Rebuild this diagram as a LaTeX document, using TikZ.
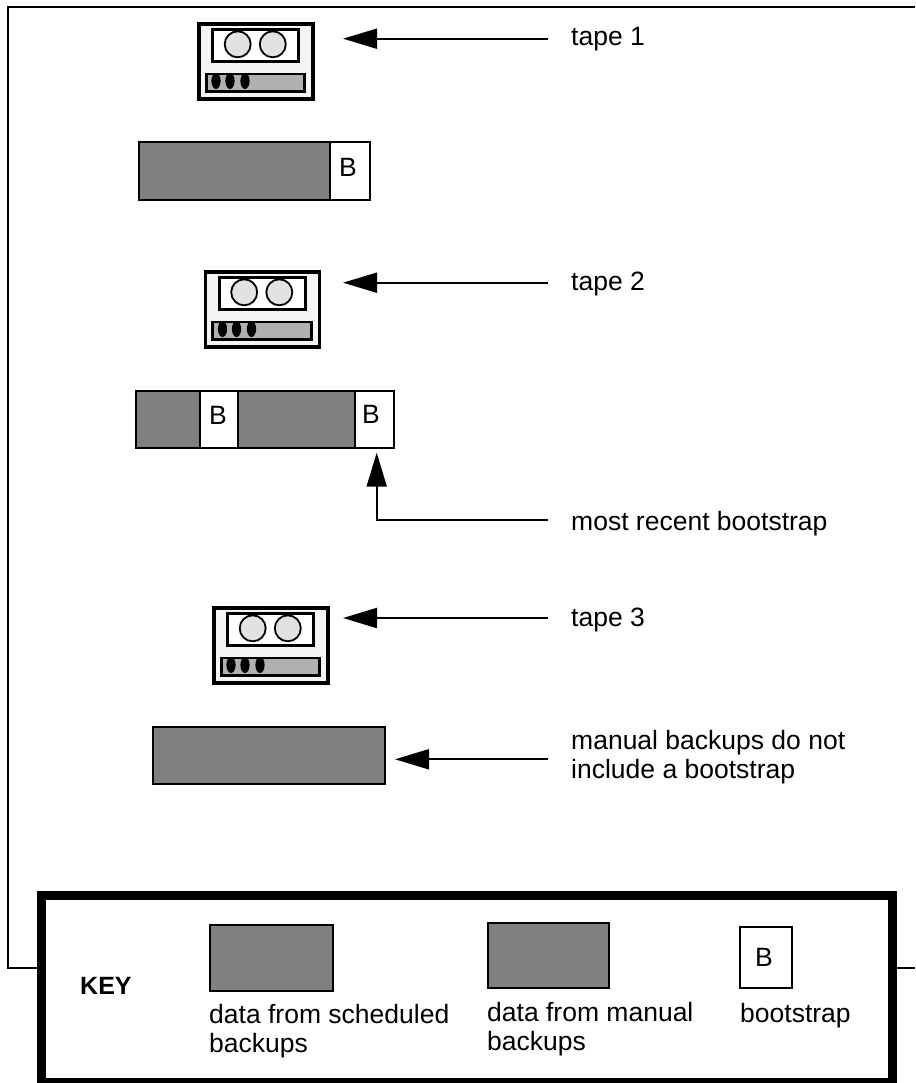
\documentclass[tikz,border=0pt]{standalone}
\usepackage{fontspec}
\setmainfont{Liberation Sans}
\usetikzlibrary{arrows.meta}
\definecolor{datagray}{HTML}{808080}
\definecolor{barfill}{HTML}{B0B0B0}
\definecolor{iconfill}{HTML}{F5F5F5}
\definecolor{reelfill}{HTML}{E2E2E2}
\tikzset{
  x=1pt,y=-1pt,
  frameline/.style={line width=2pt,black},
  seg/.style={draw=black,line width=2pt,fill=datagray,inner sep=0pt,outer sep=0pt,anchor=north west},
  bootbox/.style={draw=black,line width=2pt,fill=white,inner sep=0pt,outer sep=0pt,anchor=north west},
  lbl/.style={font=\fontsize{26.5}{29}\selectfont,inner sep=0pt,anchor=base west,align=left},
  btxt/.style={font=\fontsize{26.5}{29}\selectfont,inner sep=0pt},
  pointer/.style={line width=2pt,-{Triangle[length=34pt,width=20pt]}},
  pics/tapeicon/.style={code={
    \draw[fill=iconfill,line width=3.5pt] (198.8,23.8) rectangle (313.2,99.2);
    \draw[fill=white,line width=3pt] (212.8,29.8) rectangle (298.5,61.2);
    \draw[fill=reelfill,line width=1.8pt] (237.7,44.3) circle (13);
    \draw[fill=reelfill,line width=1.8pt] (272.8,44.3) circle (13);
    \draw[fill=barfill,draw=none] (206.3,74) rectangle (304.7,91.4);
    \fill (216,81) ellipse (4.6 and 8);
    \fill (230,81) ellipse (4.6 and 8);
    \fill (245,81) ellipse (4.6 and 8);
    \draw[line width=2.8pt] (206.3,74) rectangle (304.7,91.4);
  }}
}
\begin{document}
\begin{tikzpicture}
\useasboundingbox (0,0) rectangle (915,1083);
% outer frame
\draw[frameline] (915,7.5) -- (8,7.5) -- (8,967.5) -- (42,967.5);
\draw[frameline] (892,967.5) -- (915,967.5);
% tape icons
\pic at (0,0) {tapeicon};
\pic at (6.5,248) {tapeicon};
\pic at (15,584) {tapeicon};
% media bars
\node[seg,minimum width=191pt,minimum height=58pt] (d1) at (139.3,141.7) {};
\node[bootbox,minimum width=39.4pt,minimum height=58pt] (b1) at (330.3,141.7) {};
\node[btxt] (bt1) at (348,167) {B};
\node[seg,minimum width=64pt,minimum height=57pt] (d2) at (136,391) {};
\node[bootbox,minimum width=38pt,minimum height=57pt] (b2) at (200,391) {};
\node[btxt] (bt2) at (218,415.5) {B};
\node[seg,minimum width=117pt,minimum height=57pt] (d3) at (238,391) {};
\node[bootbox,minimum width=39pt,minimum height=57pt] (b3) at (355,391) {};
\node[btxt] (bt3) at (371,414) {B};
\node[seg,minimum width=231.7pt,minimum height=56.7pt] (d4) at (153,727) {};
% labels
\node[lbl] (t1) at (571,46) {tape 1};
\node[lbl] (t2) at (571,290) {tape 2};
\node[lbl] (t3) at (571,626) {tape 3};
\node[lbl] (t4) at (571,530) {most recent bootstrap};
\node[lbl] (t5a) at (571,749) {manual backups do not};
\node[lbl] (t5b) at (571,778) {include a bootstrap};
% pointers
\coordinate (s1) at (548,38.7); \coordinate (e1) at (343,38.7);
\coordinate (s2) at (548,282.7); \coordinate (e2) at (343,282.7);
\coordinate (s3) at (548,618); \coordinate (e3) at (343,618);
\coordinate (s4) at (548,520); \coordinate (m4) at (376.7,520); \coordinate (e4) at (376.7,452.7);
\coordinate (s5) at (548,759.3); \coordinate (e5) at (395,759.3);
\draw[pointer] (s1) -- (e1);
\draw[pointer] (s2) -- (e2);
\draw[pointer] (s3) -- (e3);
\draw[pointer] (s4) -- (m4) -- (e4);
\draw[pointer] (s5) -- (e5);
% key
\draw[line width=9pt,fill=white] (41.5,895.5) rectangle (892.5,1082.5);
\node[lbl,font=\fontsize{25}{29}\selectfont\bfseries] (k) at (80,994) {KEY};
\node[seg,minimum width=122.7pt,minimum height=65.7pt] (k1) at (210,925) {};
\node[seg,minimum width=120.7pt,minimum height=65.3pt] (k2) at (488,923) {};
\node[bootbox,minimum width=52.2pt,minimum height=61.3pt] (k3) at (740.2,927) {};
\node[btxt] (kt3) at (764,957.5) {B};
\node[lbl] (kl1a) at (209,1023) {data from scheduled};
\node[lbl] (kl1b) at (209,1052) {backups};
\node[lbl] (kl2a) at (487,1021) {data from manual};
\node[lbl] (kl2b) at (487,1050) {backups};
\node[lbl] (kl3) at (740,1022) {bootstrap};
\end{tikzpicture}
\end{document}
